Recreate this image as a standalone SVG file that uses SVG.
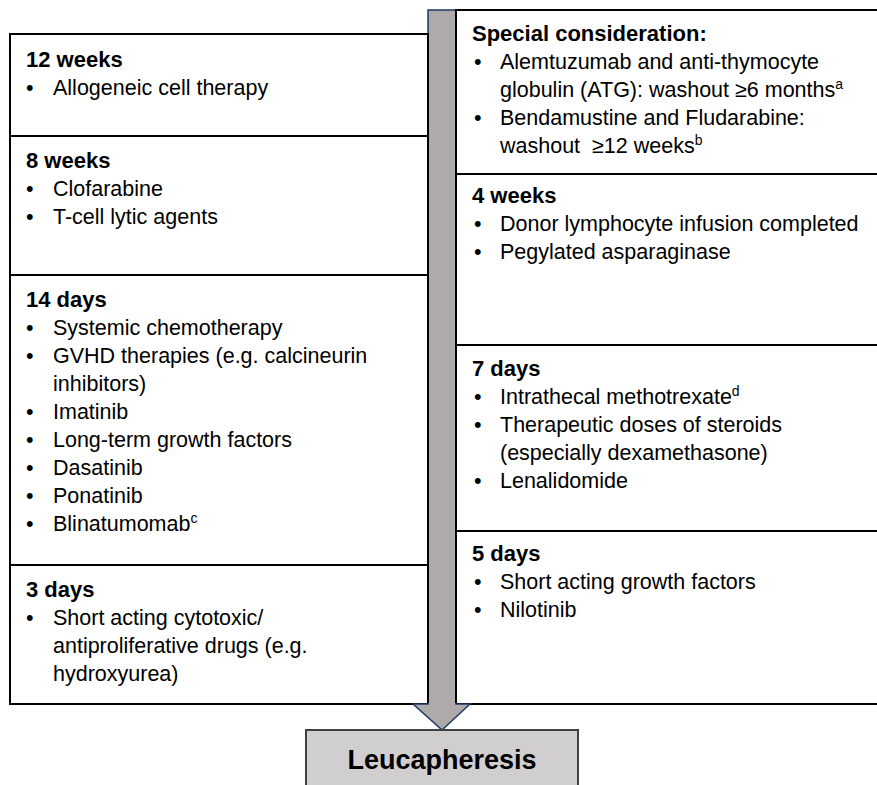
<svg xmlns="http://www.w3.org/2000/svg" width="877" height="785" viewBox="0 0 877 785">
<style>
.box{fill:#fff;stroke:#000;stroke-width:2}
.h{font-family:"Liberation Sans",Arial,sans-serif;font-weight:bold;font-size:22px;fill:#000}
.t{font-family:"Liberation Sans",Arial,sans-serif;font-size:21.5px;fill:#000}
.sup{font-size:14px}
</style>
<rect width="877" height="785" fill="#fff"/>
<g id="arrow">
<rect x="428" y="10" width="28" height="694" fill="#aeaaaa" stroke="#1f3864" stroke-width="1.5"/>
</g>
<g id="box-12weeks">
<rect class="box" x="10" y="34" width="418" height="102"/>
<text class="h" x="26" y="67">12 weeks</text>
<text class="t" x="26" y="95">•<tspan x="53">Allogeneic cell therapy</tspan></text>
</g>
<g id="box-8weeks">
<rect class="box" x="10" y="136" width="418" height="139"/>
<text class="h" x="26" y="168">8 weeks</text>
<text class="t" x="26" y="196">•<tspan x="53">Clofarabine</tspan></text>
<text class="t" x="26" y="224">•<tspan x="53">T-cell lytic agents</tspan></text>
</g>
<g id="box-14days">
<rect class="box" x="10" y="275" width="418" height="290"/>
<text class="h" x="26" y="307">14 days</text>
<text class="t" x="26" y="335">•<tspan x="53">Systemic chemotherapy</tspan></text>
<text class="t" x="26" y="363">•<tspan x="53">GVHD therapies (e.g. calcineurin</tspan></text>
<text class="t" x="53" y="391">inhibitors)</text>
<text class="t" x="26" y="419">•<tspan x="53">Imatinib</tspan></text>
<text class="t" x="26" y="447">•<tspan x="53">Long-term growth factors</tspan></text>
<text class="t" x="26" y="475">•<tspan x="53">Dasatinib</tspan></text>
<text class="t" x="26" y="503">•<tspan x="53">Ponatinib</tspan></text>
<text class="t" x="26" y="531">•<tspan x="53">Blinatumomab<tspan class="sup" dy="-8">c</tspan></tspan></text>
</g>
<g id="box-3days">
<rect class="box" x="10" y="565" width="418" height="139"/>
<text class="h" x="26" y="597">3 days</text>
<text class="t" x="26" y="625">•<tspan x="53">Short acting cytotoxic/</tspan></text>
<text class="t" x="53" y="653">antiproliferative drugs (e.g.</text>
<text class="t" x="53" y="681">hydroxyurea)</text>
</g>
<g id="box-special">
<rect class="box" x="456" y="10" width="430" height="164"/>
<text class="h" x="472" y="41">Special consideration:</text>
<text class="t" x="474" y="69">•<tspan x="500">Alemtuzumab and anti-thymocyte</tspan></text>
<text class="t" x="500" y="97">globulin (ATG): washout ≥6 months<tspan class="sup" dy="-8">a</tspan></text>
<text class="t" x="474" y="125">•<tspan x="500">Bendamustine and Fludarabine:</tspan></text>
<text class="t" x="500" y="153">washout&#160; ≥12 weeks<tspan class="sup" dy="-8">b</tspan></text>
</g>
<g id="box-4weeks">
<rect class="box" x="456" y="174" width="430" height="171"/>
<text class="h" x="472" y="203">4 weeks</text>
<text class="t" x="474" y="231">•<tspan x="500">Donor lymphocyte infusion completed</tspan></text>
<text class="t" x="474" y="259">•<tspan x="500">Pegylated asparaginase</tspan></text>
</g>
<g id="box-7days">
<rect class="box" x="456" y="345" width="430" height="186"/>
<text class="h" x="472" y="376">7 days</text>
<text class="t" x="474" y="404">•<tspan x="500">Intrathecal methotrexate<tspan class="sup" dy="-8">d</tspan></tspan></text>
<text class="t" x="474" y="432">•<tspan x="500">Therapeutic doses of steroids</tspan></text>
<text class="t" x="500" y="460">(especially dexamethasone)</text>
<text class="t" x="474" y="488">•<tspan x="500">Lenalidomide</tspan></text>
</g>
<g id="box-5days">
<rect class="box" x="456" y="531" width="430" height="173"/>
<text class="h" x="472" y="561">5 days</text>
<text class="t" x="474" y="589">•<tspan x="500">Short acting growth factors</tspan></text>
<text class="t" x="474" y="617">•<tspan x="500">Nilotinib</tspan></text>
</g>
<g id="connectors">
<line x1="400" y1="34" x2="428" y2="34" stroke="#000" stroke-width="1.5"/>
<path d="M428,703 V704 H413 L442,730 L470,704 H456 V703" fill="#aeaaaa" stroke="#1f3864" stroke-width="1.5"/>
</g>
<g id="leucapheresis">
<rect x="306" y="730" width="272" height="70" fill="#d0cece" stroke="#404040" stroke-width="2"/>
<text x="442" y="769" text-anchor="middle" font-family="Liberation Sans, Arial, sans-serif" font-weight="bold" font-size="27" fill="#000">Leucapheresis</text>
</g>
</svg>
